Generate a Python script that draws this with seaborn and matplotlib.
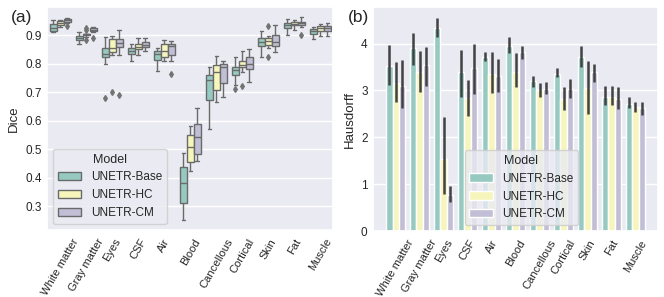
import numpy as np
import pandas as pd
import matplotlib
matplotlib.use("Agg")
import matplotlib.pyplot as plt
import seaborn as sns

organs = ["White matter", "Gray matter", "Eyes", "CSF", "Air", "Blood",
          "Cancellous", "Cortical", "Skin", "Fat", "Muscle"]
models = ["UNETR-Base", "UNETR-HC", "UNETR-CM"]

# Dice samples per box (whisker ends, quartiles, median, outliers)
dice_base = {
    "White matter": [0.912, 0.912, 0.915, 0.920, 0.925, 0.931, 0.938, 0.955, 0.955],
    "Gray matter": [0.868, 0.868, 0.884, 0.887, 0.890, 0.894, 0.898, 0.910, 0.910],
    "Eyes": [0.681, 0.800, 0.825, 0.829, 0.833, 0.845, 0.856, 0.893, 0.893],
    "CSF": [0.808, 0.808, 0.835, 0.840, 0.846, 0.851, 0.856, 0.870, 0.870],
    "Air": [0.773, 0.773, 0.813, 0.824, 0.835, 0.840, 0.845, 0.854, 0.854],
    "Blood": [0.253, 0.253, 0.311, 0.345, 0.381, 0.410, 0.437, 0.486, 0.486],
    "Cancellous": [0.571, 0.571, 0.674, 0.710, 0.743, 0.752, 0.760, 0.790, 0.790],
    "Cortical": [0.712, 0.726, 0.761, 0.770, 0.778, 0.784, 0.790, 0.822, 0.822],
    "Skin": [0.824, 0.824, 0.862, 0.870, 0.877, 0.884, 0.891, 0.914, 0.914],
    "Fat": [0.900, 0.900, 0.926, 0.930, 0.935, 0.940, 0.944, 0.958, 0.958],
    "Muscle": [0.888, 0.888, 0.905, 0.910, 0.914, 0.918, 0.921, 0.928, 0.928],
}
dice_hc = {
    "White matter": [0.930, 0.930, 0.935, 0.939, 0.943, 0.947, 0.951, 0.955, 0.955],
    "Gray matter": [0.882, 0.895, 0.900, 0.902, 0.903, 0.905, 0.906, 0.918, 0.926],
    "Eyes": [0.702, 0.830, 0.842, 0.848, 0.854, 0.870, 0.885, 0.899, 0.899],
    "CSF": [0.830, 0.830, 0.850, 0.854, 0.858, 0.864, 0.870, 0.889, 0.889],
    "Air": [0.810, 0.810, 0.822, 0.834, 0.845, 0.857, 0.868, 0.882, 0.882],
    "Blood": [0.423, 0.423, 0.455, 0.480, 0.507, 0.530, 0.551, 0.583, 0.583],
    "Cancellous": [0.666, 0.666, 0.709, 0.740, 0.771, 0.785, 0.796, 0.827, 0.827],
    "Cortical": [0.721, 0.770, 0.787, 0.792, 0.797, 0.804, 0.811, 0.844, 0.844],
    "Skin": [0.824, 0.856, 0.866, 0.872, 0.878, 0.884, 0.889, 0.897, 0.933],
    "Fat": [0.920, 0.920, 0.935, 0.938, 0.941, 0.944, 0.946, 0.955, 0.955],
    "Muscle": [0.897, 0.897, 0.914, 0.919, 0.924, 0.929, 0.933, 0.940, 0.940],
}
dice_cm = {
    "White matter": [0.932, 0.944, 0.948, 0.950, 0.952, 0.955, 0.957, 0.962, 0.962],
    "Gray matter": [0.890, 0.910, 0.914, 0.917, 0.920, 0.923, 0.926, 0.930, 0.930],
    "Eyes": [0.692, 0.831, 0.858, 0.866, 0.874, 0.881, 0.888, 0.919, 0.919],
    "CSF": [0.845, 0.845, 0.858, 0.862, 0.865, 0.871, 0.877, 0.890, 0.890],
    "Air": [0.765, 0.810, 0.830, 0.846, 0.862, 0.865, 0.868, 0.880, 0.880],
    "Blood": [0.458, 0.458, 0.484, 0.513, 0.542, 0.565, 0.588, 0.644, 0.644],
    "Cancellous": [0.683, 0.683, 0.731, 0.760, 0.787, 0.794, 0.800, 0.810, 0.810],
    "Cortical": [0.735, 0.735, 0.783, 0.792, 0.800, 0.812, 0.824, 0.853, 0.853],
    "Skin": [0.841, 0.841, 0.862, 0.870, 0.877, 0.890, 0.902, 0.937, 0.937],
    "Fat": [0.902, 0.930, 0.935, 0.939, 0.943, 0.946, 0.948, 0.964, 0.964],
    "Muscle": [0.897, 0.897, 0.914, 0.920, 0.927, 0.930, 0.933, 0.943, 0.943],
}

# Hausdorff means and error bar ends
haus_base = [3.53, 3.90, 4.34, 3.39, 3.72, 3.95, 3.20, 3.35, 3.72, 2.85, 2.71]
base_lo = [3.11, 3.54, 4.13, 2.87, 3.62, 3.80, 3.08, 3.28, 3.50, 2.68, 2.62]
base_hi = [3.97, 4.22, 4.55, 3.86, 3.82, 4.13, 3.31, 3.47, 3.95, 3.09, 2.85]
haus_hc = [3.16, 3.40, 1.53, 2.84, 3.36, 3.40, 3.01, 2.82, 3.06, 2.87, 2.64]
hc_lo = [2.75, 2.97, 0.80, 2.45, 2.95, 3.08, 2.87, 2.58, 2.50, 2.68, 2.53]
hc_hi = [3.60, 3.84, 2.44, 3.23, 3.81, 3.79, 3.15, 3.08, 3.63, 3.09, 2.75]
haus_cm = [3.10, 3.55, 0.78, 3.47, 3.31, 3.81, 3.03, 3.03, 3.39, 2.82, 2.62]
cm_lo = [2.62, 3.09, 0.62, 2.92, 2.96, 3.67, 2.92, 2.83, 3.19, 2.60, 2.48]
cm_hi = [3.65, 3.93, 0.97, 4.00, 3.68, 3.94, 3.18, 3.24, 3.56, 3.08, 2.76]

rows = []
for model, d in zip(models, [dice_base, dice_hc, dice_cm]):
    for organ in organs:
        for v in d[organ]:
            rows.append((organ, model, v))
dice_df = pd.DataFrame(rows, columns=["Organ", "Model", "Dice"])

haus_df = pd.DataFrame({
    "Organ": organs * 3,
    "Model": np.repeat(models, len(organs)),
    "Hausdorff": haus_base + haus_hc + haus_cm,
})
err_lo = [base_lo, hc_lo, cm_lo]
err_hi = [base_hi, hc_hi, cm_hi]

sns.set_theme(style="darkgrid")
plt.rcParams["font.family"] = ["Liberation Sans", "DejaVu Sans"]

fig = plt.figure(figsize=(6.64, 2.97), dpi=100)
ax1 = fig.add_axes([0.071, 0.226, 0.431, 0.751])
ax2 = fig.add_axes([0.562, 0.222, 0.429, 0.754])

sns.boxplot(data=dice_df, x="Organ", y="Dice", hue="Model", palette="Set3",
            ax=ax1, linewidth=1,
            flierprops=dict(marker="d", markersize=3, markerfacecolor=".45",
                            markeredgecolor=".45"))
ax1.set_xlabel("")
ax1.set_ylabel("Dice", fontsize=9.5, labelpad=4)
ax1.legend(title="Model", loc="lower left", fontsize=8.5, title_fontsize=9)

sns.barplot(data=haus_df, x="Organ", y="Hausdorff", hue="Model", palette="Set3",
            ax=ax2, errorbar=None)
for h, cont in enumerate(ax2.containers):
    for bar, lo, hi in zip(cont, err_lo[h], err_hi[h]):
        xc = bar.get_x() + bar.get_width() / 2
        ax2.vlines(xc, lo, hi, color=".26", linewidth=1.8)
ax2.set_xlabel("")
ax2.set_ylabel("Hausdorff", fontsize=9.5, labelpad=4)
ax2.legend(title="Model", loc="lower left", bbox_to_anchor=(0.3, 0.0),
           fontsize=8.5, title_fontsize=9)

for ax in (ax1, ax2):
    ax.tick_params(axis="y", labelsize=8.5, length=0, pad=4)
    ax.tick_params(axis="x", labelsize=8, length=0, pad=5)
    plt.setp(ax.get_xticklabels(), rotation=60)

fig.text(0.017, 0.965, "(a)", fontsize=12.5, va="top")
fig.text(0.524, 0.965, "(b)", fontsize=12.5, va="top")

fig.savefig("out.png", dpi=100)
